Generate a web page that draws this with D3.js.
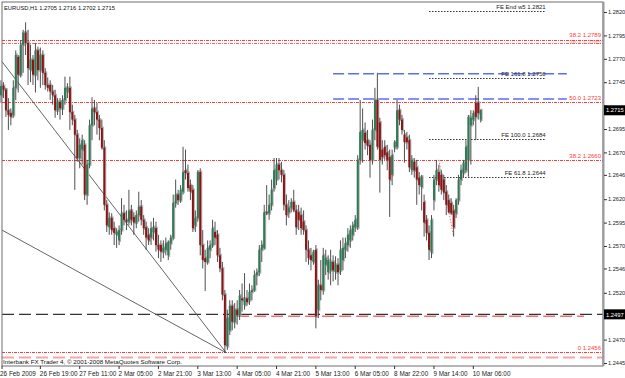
<!DOCTYPE html>
<html><head><meta charset="utf-8">
<script src="https://cdn.jsdelivr.net/npm/d3@7"></script>
<style>
html,body{margin:0;padding:0;background:#fff;}
svg{display:block;font-family:"Liberation Sans",Arial,sans-serif;}
</style></head>
<body><svg id="c" width="625" height="378"></svg>
<script>
// ---------- DATA ----------
const symbolTitle = "EURUSD,H1  1.2705 1.2716 1.2702 1.2715";
const copyright = "Interbank FX Trader 4, \u00A9 2001-2008 MetaQuotes Software Corp.";
const open = [1.2731,1.2741,1.2737,1.2715,1.2712,1.2710,1.2739,1.2772,1.2753,1.2785,1.2798,1.2787,1.2758,1.2769,1.2753,1.2779,1.2758,1.2774,1.2755,1.2742,
1.2742,1.2735,1.2731,1.2715,1.2724,1.2717,1.2726,1.2735,1.2739,1.2713,1.2705,1.2689,1.2664,1.2673,1.2678,1.2625,1.2657,1.2699,1.2717,1.2713,
1.2705,1.2696,1.2675,1.2614,1.2590,1.2600,1.2589,1.2582,1.2576,1.2587,1.2605,1.2598,1.2596,1.2608,1.2601,1.2595,1.2603,1.2612,1.2598,1.2590,
1.2582,1.2579,1.2585,1.2589,1.2571,1.2571,1.2564,1.2566,1.2560,1.2573,1.2579,1.2616,1.2625,1.2619,1.2628,1.2651,1.2648,1.2635,1.2630,1.2592,
1.2600,1.2649,1.2571,1.2557,1.2553,1.2566,1.2571,1.2585,1.2582,1.2560,1.2546,1.2518,1.2463,1.2480,1.2506,1.2489,1.2502,1.2496,1.2514,1.2507,
1.2514,1.2512,1.2521,1.2523,1.2539,1.2542,1.2566,1.2568,1.2606,1.2605,1.2614,1.2632,1.2641,1.2657,1.2651,1.2646,1.2614,1.2606,1.2611,1.2617,
1.2608,1.2606,1.2603,1.2596,1.2587,1.2566,1.2560,1.2553,1.2566,1.2502,1.2528,1.2523,1.2550,1.2542,1.2544,1.2553,1.2542,1.2550,1.2544,1.2555,
1.2566,1.2571,1.2576,1.2582,1.2590,1.2590,1.2662,1.2683,1.2691,1.2683,1.2678,1.2662,1.2694,1.2726,1.2702,1.2673,1.2676,1.2670,1.2665,1.2646,
1.2675,1.2676,1.2715,1.2705,1.2689,1.2686,1.2683,1.2651,1.2660,1.2654,1.2643,1.2633,1.2617,1.2598,1.2584,1.2563,1.2619,1.2641,1.2649,1.2646,
1.2641,1.2628,1.2619,1.2616,1.2608,1.2605,1.2619,1.2641,1.2648,1.2651,1.2662,1.2699,1.2705,1.2723,1.2723,1.2705];
const high = [1.2747,1.2745,1.2739,1.2728,1.2717,1.2747,1.2779,1.2774,1.2790,1.2801,1.2809,1.2801,1.2785,1.2774,1.2787,1.2783,1.2782,1.2779,1.2760,1.2750,
1.2747,1.2742,1.2737,1.2728,1.2728,1.2731,1.2751,1.2744,1.2751,1.2721,1.2710,1.2694,1.2685,1.2689,1.2683,1.2662,1.2705,1.2729,1.2726,1.2723,
1.2710,1.2705,1.2683,1.2619,1.2606,1.2605,1.2596,1.2589,1.2592,1.2621,1.2614,1.2608,1.2630,1.2614,1.2606,1.2608,1.2628,1.2619,1.2603,1.2596,
1.2589,1.2596,1.2600,1.2596,1.2582,1.2576,1.2576,1.2579,1.2576,1.2582,1.2625,1.2641,1.2630,1.2635,1.2676,1.2673,1.2657,1.2641,1.2635,1.2608,
1.2651,1.2653,1.2587,1.2566,1.2576,1.2576,1.2598,1.2596,1.2587,1.2568,1.2553,1.2523,1.2502,1.2512,1.2512,1.2509,1.2512,1.2523,1.2530,1.2541,
1.2523,1.2530,1.2528,1.2544,1.2546,1.2571,1.2576,1.2614,1.2635,1.2625,1.2641,1.2664,1.2664,1.2664,1.2660,1.2651,1.2625,1.2619,1.2621,1.2630,
1.2614,1.2614,1.2611,1.2608,1.2592,1.2576,1.2568,1.2566,1.2571,1.2534,1.2555,1.2568,1.2566,1.2560,1.2566,1.2560,1.2559,1.2557,1.2576,1.2579,
1.2579,1.2589,1.2592,1.2596,1.2603,1.2667,1.2726,1.2717,1.2702,1.2694,1.2683,1.2705,1.2739,1.2755,1.2707,1.2683,1.2683,1.2678,1.2673,1.2673,
1.2683,1.2726,1.2721,1.2710,1.2694,1.2692,1.2689,1.2667,1.2664,1.2662,1.2649,1.2646,1.2625,1.2603,1.2592,1.2603,1.2646,1.2662,1.2657,1.2651,
1.2646,1.2635,1.2625,1.2621,1.2614,1.2621,1.2646,1.2657,1.2662,1.2683,1.2710,1.2715,1.2715,1.2731,1.2740,1.2716];
const low = [1.2723,1.2728,1.2708,1.2694,1.2699,1.2707,1.2726,1.2734,1.2750,1.2755,1.2774,1.2742,1.2745,1.2742,1.2734,1.2747,1.2739,1.2742,1.2737,1.2735,
1.2726,1.2721,1.2707,1.2710,1.2705,1.2710,1.2721,1.2728,1.2694,1.2699,1.2630,1.2660,1.2653,1.2657,1.2619,1.2614,1.2653,1.2683,1.2699,1.2689,
1.2683,1.2673,1.2608,1.2585,1.2582,1.2582,1.2571,1.2568,1.2571,1.2582,1.2592,1.2587,1.2592,1.2592,1.2582,1.2589,1.2596,1.2592,1.2582,1.2566,
1.2571,1.2571,1.2576,1.2564,1.2557,1.2553,1.2557,1.2560,1.2555,1.2566,1.2576,1.2611,1.2614,1.2616,1.2625,1.2641,1.2628,1.2619,1.2585,1.2585,
1.2596,1.2560,1.2546,1.2522,1.2550,1.2557,1.2568,1.2571,1.2553,1.2542,1.2512,1.2456,1.2459,1.2475,1.2480,1.2482,1.2486,1.2491,1.2500,1.2502,
1.2506,1.2507,1.2512,1.2521,1.2528,1.2538,1.2553,1.2566,1.2603,1.2598,1.2608,1.2628,1.2635,1.2641,1.2638,1.2608,1.2592,1.2600,1.2606,1.2606,
1.2582,1.2587,1.2582,1.2582,1.2553,1.2550,1.2544,1.2550,1.2482,1.2493,1.2512,1.2518,1.2539,1.2534,1.2528,1.2532,1.2534,1.2528,1.2539,1.2544,
1.2557,1.2564,1.2568,1.2576,1.2585,1.2587,1.2657,1.2659,1.2673,1.2667,1.2643,1.2657,1.2683,1.2673,1.2627,1.2657,1.2662,1.2651,1.2601,1.2635,
1.2670,1.2673,1.2699,1.2689,1.2659,1.2673,1.2649,1.2646,1.2643,1.2614,1.2625,1.2608,1.2580,1.2576,1.2555,1.2557,1.2608,1.2635,1.2628,1.2625,
1.2619,1.2603,1.2605,1.2603,1.2580,1.2600,1.2614,1.2635,1.2643,1.2648,1.2644,1.2657,1.2699,1.2683,1.2705,1.2702];
const close = [1.2741,1.2737,1.2715,1.2710,1.2708,1.2739,1.2774,1.2753,1.2785,1.2798,1.2787,1.2760,1.2769,1.2753,1.2779,1.2758,1.2774,1.2755,1.2742,1.2739,
1.2735,1.2731,1.2715,1.2724,1.2717,1.2726,1.2739,1.2739,1.2713,1.2705,1.2689,1.2664,1.2678,1.2683,1.2625,1.2657,1.2699,1.2717,1.2713,1.2705,
1.2696,1.2675,1.2614,1.2592,1.2600,1.2587,1.2584,1.2585,1.2587,1.2605,1.2598,1.2596,1.2608,1.2598,1.2595,1.2603,1.2612,1.2598,1.2589,1.2579,
1.2576,1.2589,1.2590,1.2571,1.2566,1.2564,1.2568,1.2573,1.2574,1.2579,1.2616,1.2625,1.2619,1.2630,1.2649,1.2648,1.2632,1.2628,1.2589,1.2600,
1.2649,1.2571,1.2555,1.2553,1.2568,1.2571,1.2589,1.2579,1.2560,1.2546,1.2518,1.2464,1.2493,1.2506,1.2489,1.2502,1.2496,1.2517,1.2512,1.2514,
1.2510,1.2521,1.2523,1.2539,1.2542,1.2566,1.2571,1.2606,1.2605,1.2614,1.2630,1.2651,1.2657,1.2651,1.2646,1.2614,1.2603,1.2611,1.2617,1.2608,
1.2590,1.2598,1.2589,1.2587,1.2566,1.2557,1.2555,1.2564,1.2495,1.2528,1.2523,1.2560,1.2557,1.2555,1.2553,1.2544,1.2550,1.2542,1.2566,1.2568,
1.2573,1.2582,1.2587,1.2592,1.2598,1.2662,1.2692,1.2694,1.2680,1.2677,1.2662,1.2694,1.2726,1.2676,1.2662,1.2665,1.2667,1.2662,1.2641,1.2667,
1.2681,1.2715,1.2705,1.2694,1.2681,1.2681,1.2654,1.2662,1.2651,1.2641,1.2635,1.2644,1.2595,1.2584,1.2566,1.2598,1.2641,1.2651,1.2635,1.2630,
1.2627,1.2614,1.2606,1.2605,1.2590,1.2619,1.2641,1.2651,1.2659,1.2676,1.2708,1.2707,1.2712,1.2708,1.2712,1.2715];
const timeLabels = ["26 Feb 2009","26 Feb 19:00","27 Feb 11:00","2 Mar 05:00","2 Mar 21:00","3 Mar 13:00","4 Mar 05:00","4 Mar 21:00","5 Mar 13:00","6 Mar 05:00","8 Mar 22:00","9 Mar 14:00","10 Mar 06:00"];
const timeLabelBars = [0,16,32,48,64,80,96,112,128,144,160,176,192];
const priceTicks = [1.2820,1.2795,1.2770,1.2745,1.2720,1.2695,1.2670,1.2646,1.2620,1.2595,1.2570,1.2546,1.2520,1.2495,1.2470,1.2445];
const markerPrices = [1.2715,1.2497];
// full-width fibonacci retracement levels (red dotted)
const fibPrices = [1.2790,1.2787,1.2724,1.2662,1.2457];
const fibLabels = ["38.2  1.2789","38.2  1.2785","50.0  1.2723","38.2  1.2660","0  1.2456"];
// fibonacci expansion levels (black dotted, short)
const fePrices = [1.2821,1.2750,1.2684,1.2644];
const feLabels = ["FE End w5  1.2821","FE 161.8  1.2750","FE 100.0  1.2684","FE 61.8  1.2644"];
const feStartBar = 174, feEndBar = 221;
// blue dashed horizontal levels
const bluePrices = [1.2754,1.2727];
const blueStartBar = 135, blueEndBar = 230;
// other horizontal levels
const blackDashPrice = 1.2497;
const salmonDashPrice = 1.2495, salmonStartBar = 96, salmonEndBar = 237;
const pinkDashPrice = 1.2451;
// trend lines: [barA, priceA, barB, priceB]
const trendLines = [[0.4,1.2767,91.5,1.2456],[0.4,1.2587,91.5,1.2456]];
const dottedTrend = [178,1.2662,184,1.2580];

// ---------- LAYOUT ----------
const W = 625, H = 378;
const L = 2, R = 603, T = 2, B = 366;
const svg = d3.select("#c");
const y = d3.scaleLinear().domain([1.2445,1.2820]).range([363,12]);
const x = d3.scaleLinear().domain([0,195]).range([1,480.7]);

svg.append("rect").attr("width",W).attr("height",H).attr("fill","#fff");

const g = svg.append("g");
fibPrices.forEach((p,i)=>{
  g.append("line").attr("x1",L).attr("x2",R).attr("y1",Math.round(y(p))+0.5).attr("y2",Math.round(y(p))+0.5)
   .attr("stroke","#ff3b3b").attr("stroke-width",1).attr("stroke-dasharray","3,1,1,1").attr("opacity",i===1?0.8:1);
});
bluePrices.forEach(p=>{
  g.append("line").attr("x1",x(blueStartBar)).attr("x2",x(blueEndBar)).attr("y1",y(p)).attr("y2",y(p))
   .attr("stroke","#5c6cf5").attr("stroke-width",1.6).attr("stroke-dasharray","11,4");
});
fePrices.forEach(p=>{
  g.append("line").attr("x1",x(feStartBar)).attr("x2",x(feEndBar)).attr("y1",Math.round(y(p))+0.5).attr("y2",Math.round(y(p))+0.5)
   .attr("stroke","#333").attr("stroke-width",1).attr("stroke-dasharray","1.5,1.5");
});
g.append("line").attr("x1",L).attr("x2",R).attr("y1",y(blackDashPrice)).attr("y2",y(blackDashPrice))
  .attr("stroke","#333").attr("stroke-width",1.2).attr("stroke-dasharray","12,5");
g.append("line").attr("x1",x(salmonStartBar)).attr("x2",x(salmonEndBar)).attr("y1",y(salmonDashPrice)).attr("y2",y(salmonDashPrice))
  .attr("stroke","#f07070").attr("stroke-width",1.6).attr("stroke-dasharray","12,5");
g.append("line").attr("x1",L).attr("x2",R).attr("y1",y(pinkDashPrice)).attr("y2",y(pinkDashPrice))
  .attr("stroke","#f5a5a5").attr("stroke-width",2).attr("stroke-dasharray","12,5");
trendLines.forEach(t=>{
  g.append("line").attr("x1",x(t[0])).attr("y1",y(t[1])).attr("x2",x(t[2])).attr("y2",y(t[3]))
   .attr("stroke","#555").attr("stroke-width",0.9);
});
g.append("line").attr("x1",x(dottedTrend[0])).attr("y1",y(dottedTrend[1])).attr("x2",x(dottedTrend[2])).attr("y2",y(dottedTrend[3]))
  .attr("stroke","#e07a7a").attr("stroke-width",1).attr("stroke-dasharray","1.5,1.5");

// candles
const idx = d3.range(close.length);
const cg = svg.append("g");
cg.selectAll("rect.sh").data(idx).join("rect").attr("class","sh")
  .attr("x",i=>x(i)+0.3).attr("width",1.7)
  .attr("y",i=>y(Math.max(open[i],close[i]))-1.5).attr("height",i=>Math.abs(y(open[i])-y(close[i]))+3)
  .attr("fill","#b4b4b4");
cg.selectAll("line.wk").data(idx).join("line").attr("class","wk")
  .attr("x1",i=>x(i)).attr("x2",i=>x(i)).attr("y1",i=>y(high[i])).attr("y2",i=>y(low[i]))
  .attr("stroke","#3c3c3c").attr("stroke-width",0.9);
cg.selectAll("rect.bd").data(idx).join("rect").attr("class","bd")
  .attr("x",i=>x(i)-1).attr("width",2)
  .attr("y",i=>y(Math.max(open[i],close[i]))).attr("height",i=>Math.max(1,Math.abs(y(open[i])-y(close[i]))))
  .attr("fill",i=>close[i]>=open[i]?"#2f7a55":"#8c1414");

// level labels (second 38.2 label sits just under the first, as in the reference)
fibLabels.forEach((t,i)=>{
  const yy = i===0 ? 37 : (i===1 ? 44 : y(fibPrices[i])-2);
  svg.append("text").attr("x",601).attr("y",yy).attr("text-anchor","end")
   .attr("font-size",6).attr("fill","#ff3b3b").attr("opacity",i===1?0.55:1).text(t);
});
feLabels.forEach((t,i)=>{
  svg.append("text").attr("x",x(feEndBar)+1).attr("y",y(fePrices[i])-2).attr("text-anchor","end")
   .attr("font-size",6).attr("fill","#222").text(t);
});

// frame
svg.append("rect").attr("x",L).attr("y",T).attr("width",R-L).attr("height",B-T)
  .attr("fill","none").attr("stroke","#6e6e6e").attr("stroke-width",1);
svg.append("line").attr("x1",R+0.5).attr("x2",R+0.5).attr("y1",T).attr("y2",B).attr("stroke","#9a9a9a").attr("stroke-width",2);

// price axis (labels hidden under the black price markers are left blank, as in the reference)
const hidden = v => markerPrices.some(m => Math.abs(y(m)-y(v)) < 8);
const axisG = svg.append("g").attr("transform",`translate(${R},0)`);
const yAxis = d3.axisRight(y).tickValues(priceTicks).tickSize(3)
  .tickFormat(v => hidden(v) ? "" : d3.format(".4f")(v));
axisG.call(yAxis);
axisG.select(".domain").remove();
axisG.selectAll(".tick line").attr("stroke","#333").attr("transform","translate(1,0)");
axisG.selectAll(".tick text").attr("font-size",5.6).attr("fill","#222").attr("x",5)
  .attr("font-family","Liberation Sans, Arial, sans-serif");
markerPrices.forEach(p=>{
  const yy = y(p);
  svg.append("rect").attr("x",R+1).attr("y",yy-5).attr("width",21).attr("height",10).attr("fill","#000");
  svg.append("text").attr("x",R+3).attr("y",yy+2.2).attr("font-size",5.8).attr("fill","#fff").text(d3.format(".4f")(p));
});

// time axis
const xAxisG = svg.append("g").attr("transform",`translate(0,${B})`);
timeLabelBars.forEach((b,i)=>{
  const xx = Math.max(L,x(b));
  xAxisG.append("line").attr("x1",xx).attr("x2",xx).attr("y1",0).attr("y2",3).attr("stroke","#333");
  xAxisG.append("text").attr("x",i===0?0:xx-0.5).attr("y",9.5).attr("font-size",6.4).attr("fill","#222").text(timeLabels[i]);
});

// titles
svg.append("text").attr("x",4).attr("y",10).attr("font-size",6.2).attr("fill","#111")
  .attr("textLength",111).attr("lengthAdjust","spacingAndGlyphs").text(symbolTitle);
svg.append("text").attr("x",3).attr("y",364).attr("font-size",6.2).attr("fill","#111")
  .attr("textLength",179).attr("lengthAdjust","spacingAndGlyphs").text(copyright);
</script></body></html>
